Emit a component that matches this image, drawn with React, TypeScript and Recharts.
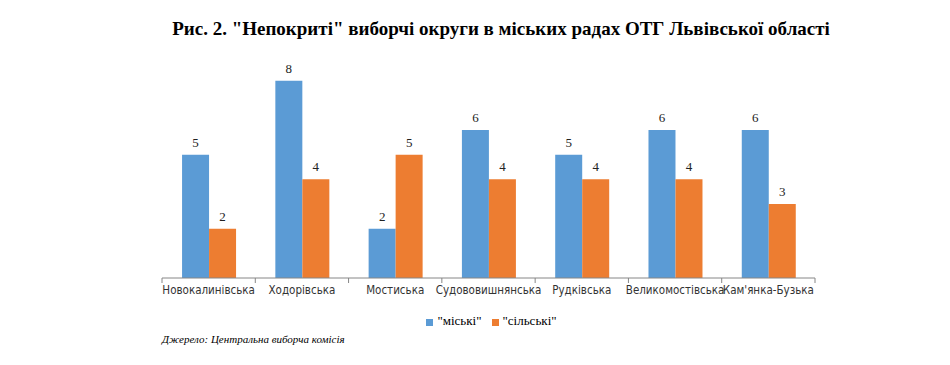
import { BarChart, Bar, XAxis, YAxis, Legend, LabelList } from 'recharts';

const districts = [
  'Новокалинівська',
  'Ходорівська',
  'Мостиська',
  'Судововишнянська',
  'Рудківська',
  'Великомостівська',
  "Кам'янка-Бузька",
];
const urban = [5, 8, 2, 6, 5, 6, 6];
const rural = [2, 4, 5, 4, 4, 4, 3];

const data = districts.map((name, i) => ({
  name,
  urban: urban[i],
  rural: rural[i],
}));

const serif = '"Liberation Serif", "Times New Roman", serif';
const sans = '"Liberation Sans Narrow", "DejaVu Sans Condensed", "Liberation Sans", sans-serif';

const WIDTH = 950;
const HEIGHT = 365;
const MARGIN = { top: 56, right: 135, left: 162, bottom: 40 };
const BAND = (WIDTH - MARGIN.left - MARGIN.right) / districts.length;

// Excel-style tick marks sit between the categories, not under them
const CategoryTick = (props: any) => {
  const { x, y, payload, index } = props;
  const axisY = y - 8;
  return (
    <g>
      <line x1={x - BAND / 2} x2={x - BAND / 2} y1={axisY} y2={axisY + 5} stroke="#868686" />
      {index === districts.length - 1 && (
        <line x1={x + BAND / 2} x2={x + BAND / 2} y1={axisY} y2={axisY + 5} stroke="#868686" />
      )}
      <text x={x} y={y} dy="0.71em" textAnchor="middle" fontSize={11.5} fill="#333" fontFamily={sans}>
        {payload.value}
      </text>
    </g>
  );
};

const App = () => {
  return (
    <div style={{ position: 'absolute', left: 0, top: 0, width: WIDTH, height: HEIGHT, background: '#fff' }}>
      <div
        style={{
          position: 'absolute',
          top: 18,
          left: 0,
          width: 1002,
          textAlign: 'center',
          fontFamily: serif,
          fontWeight: 'bold',
          fontSize: 19,
          color: '#000',
        }}
      >
        Рис. 2. "Непокриті" виборчі округи в міських радах ОТГ Львівської області
      </div>
      <BarChart
        width={WIDTH}
        height={HEIGHT}
        data={data}
        margin={MARGIN}
        barCategoryGap="21.5%"
        barGap={0}
      >
        <XAxis
          dataKey="name"
          stroke="#868686"
          tickLine={false}
          interval={0}
          height={31}
          tick={<CategoryTick />}
        />
        <YAxis hide domain={[0, 9]} />
        <Legend
          verticalAlign="bottom"
          iconType="square"
          iconSize={7}
          wrapperStyle={{ fontFamily: serif, fontSize: 13, color: '#000', bottom: 36, left: 170 }}
          formatter={(value: string) => (
            <span style={{ color: '#000', fontFamily: serif, fontSize: 13 }}>{value}</span>
          )}
        />
        <Bar dataKey="urban" name={'"міські"'} fill="#5B9BD5" isAnimationActive={false}>
          <LabelList
            dataKey="urban"
            position="top"
            offset={8}
            fontFamily={serif}
            fontSize={13}
            fill="#222"
          />
        </Bar>
        <Bar dataKey="rural" name={'"сільські"'} fill="#ED7D31" isAnimationActive={false}>
          <LabelList
            dataKey="rural"
            position="top"
            offset={8}
            fontFamily={serif}
            fontSize={13}
            fill="#222"
          />
        </Bar>
      </BarChart>
      <div
        style={{
          position: 'absolute',
          top: 333,
          left: 162,
          fontFamily: serif,
          fontStyle: 'italic',
          fontSize: 11,
          color: '#000',
        }}
      >
        Джерело: Центральна виборча комісія
      </div>
    </div>
  );
};

export default App;
